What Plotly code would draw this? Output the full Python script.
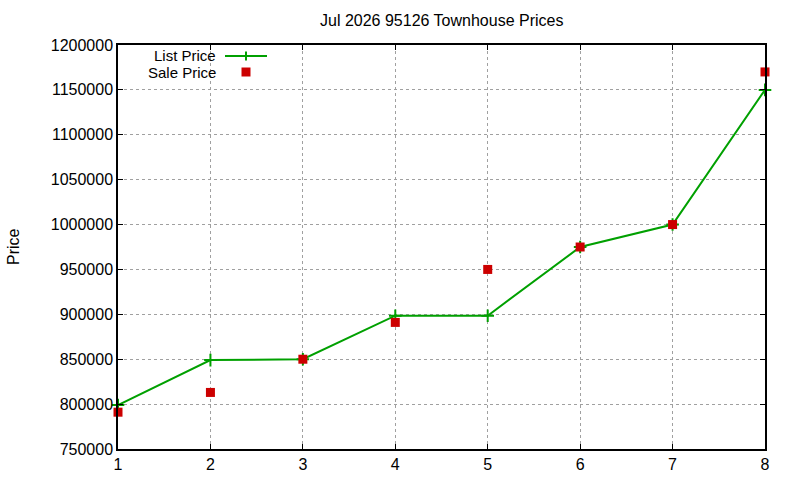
import plotly.graph_objects as go

months = [1, 2, 3, 4, 5, 6, 7, 8]
list_price = [799000, 849000, 850000, 898500, 898500, 975000, 1000000, 1150000]
sale_price = [791000, 813000, 850000, 891000, 950000, 975000, 1000000, 1170000]
y_ticks = [750000, 800000, 850000, 900000, 950000, 1000000, 1050000, 1100000, 1150000, 1200000]
title_text = "Jul 2026 95126 Townhouse Prices"

W, H = 800, 480
L, R, T, B = 118, 35, 45, 31
PW, PH = W - L - R, H - T - B

def px(x):
    return (x - L) / PW

def py(y):
    return (H - B - y) / PH

GREEN = "#00a000"
RED = "#cc0000"
FONT = "Liberation Sans, Arial, sans-serif"
FS = 16
LFS = 15

fig = go.Figure()
fig.add_trace(go.Scatter(
    x=months, y=list_price, mode="lines+markers", name="List Price",
    line=dict(color=GREEN, width=2),
    marker=dict(symbol="cross-thin", size=9, line=dict(color=GREEN, width=2), color=GREEN),
    cliponaxis=False, showlegend=False,
))
fig.add_trace(go.Scatter(
    x=months, y=sale_price, mode="markers", name="Sale Price",
    marker=dict(symbol="square", size=9, color=RED),
    cliponaxis=False, showlegend=False,
))

axis_common = dict(
    showline=True, linecolor="black", linewidth=1.5, mirror="ticks",
    ticks="inside", ticklen=5, tickcolor="black", tickwidth=1,
    showgrid=True, gridcolor="#a0a0a0", griddash="dot", gridwidth=1,
    zeroline=False, automargin=False,
    tickfont=dict(family=FONT, size=FS, color="black"),
)

fig.update_xaxes(range=[1, 8], tickmode="array", tickvals=months,
                 ticktext=[str(m) for m in months], **axis_common)
fig.update_yaxes(range=[750000, 1200000], tickmode="array", tickvals=y_ticks,
                 ticktext=[str(v) for v in y_ticks], **axis_common)

shapes = [
    dict(type="line", xref="paper", yref="paper", x0=px(225), x1=px(267), y0=py(56), y1=py(56),
         line=dict(color=GREEN, width=2)),
    dict(type="line", xref="paper", yref="paper", x0=px(246), x1=px(246), y0=py(51.5), y1=py(60.5),
         line=dict(color=GREEN, width=2)),
    dict(type="rect", xref="paper", yref="paper", x0=px(241.5), x1=px(250.5), y0=py(67.5), y1=py(76.5),
         line=dict(width=0), fillcolor=RED),
]

annotations = [
    dict(text="List Price", xref="paper", yref="paper", x=px(217), y=py(55),
         xanchor="right", yanchor="middle", showarrow=False, borderpad=0,
         font=dict(family=FONT, size=LFS, color="black")),
    dict(text="Sale Price", xref="paper", yref="paper", x=px(217), y=py(72.5),
         xanchor="right", yanchor="middle", showarrow=False, borderpad=0,
         font=dict(family=FONT, size=LFS, color="black")),
    dict(text="Price", xref="paper", yref="paper", x=px(13), y=py(247),
         xanchor="center", yanchor="middle", textangle=-90, showarrow=False,
         font=dict(family=FONT, size=FS, color="black")),
    dict(text=title_text, xref="paper", yref="paper", x=px(441), y=py(21),
         xanchor="center", yanchor="middle", showarrow=False,
         font=dict(family=FONT, size=FS, color="black")),
]

fig.update_layout(
    width=W, height=H,
    margin=dict(l=L, r=R, t=T, b=B, autoexpand=False),
    paper_bgcolor="white", plot_bgcolor="white",
    shapes=shapes, annotations=annotations,
    showlegend=False,
    font=dict(family=FONT, size=FS, color="black"),
)

fig.write_html("out.html", config={"displayModeBar": False},
               post_script="document.body.style.margin='0';document.body.style.overflow='hidden';")
